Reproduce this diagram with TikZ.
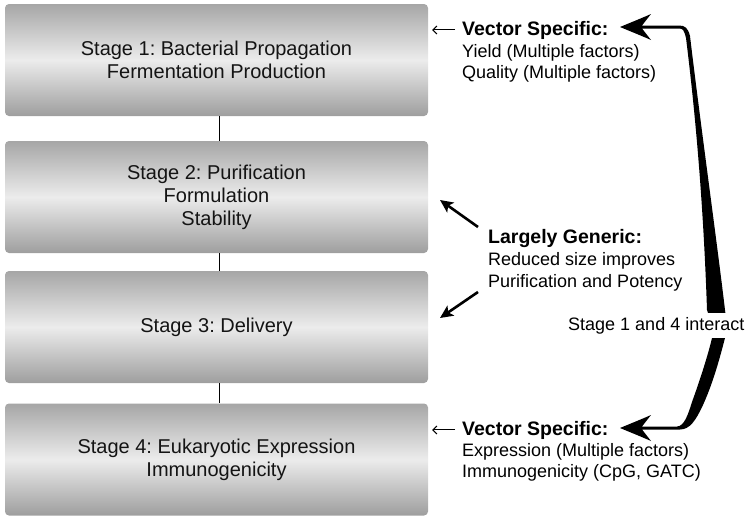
\documentclass[tikz,border=0pt]{standalone}
\usepackage{fontspec}
\setmainfont{Liberation Sans}
\usetikzlibrary{arrows.meta}
\definecolor{boxtop}{RGB}{166,166,166}
\definecolor{boxmid}{RGB}{236,236,236}
\definecolor{boxbot}{RGB}{158,158,158}
\definecolor{boxtext}{RGB}{20,20,20}
\frenchspacing
\begin{document}
\begin{tikzpicture}[x=1pt,y=-1pt,
  stagebox/.style={rounded corners=4pt, minimum width=423pt, minimum height=112pt,
    top color=boxtop, bottom color=boxbot, middle color=boxmid,
    align=center, text=boxtext, font=\fontsize{20}{23}\selectfont, inner sep=0pt},
  boldtxt/.style={font=\bfseries\fontsize{19.5}{22}\selectfont, inner sep=0pt, anchor=base west},
  regtxt/.style={font=\fontsize{18}{22}\selectfont, inner sep=0pt, anchor=base west},
  link/.style={draw=black, line width=1pt},
  smallarr/.style={draw=black, line width=1pt, -{Straight Barb[length=4pt,width=8pt]}},
  midarr/.style={draw=black, line width=2.6pt, -{Stealth[length=13pt,width=12pt,inset=3pt]}},
  bigarrow/.style={fill=black}
]
\useasboundingbox (0,0) rectangle (748,522);

% stage boxes
\node[stagebox] (s1) at (216.5,60) {Stage 1: Bacterial Propagation\\Fermentation Production};
\node[stagebox] (s2) at (216.5,197) {Stage 2: Purification\\Formulation\\Stability};
\node[stagebox] (s3) at (216.5,327) {Stage 3: Delivery};
\node[stagebox] (s4) at (216.5,459.5) {Stage 4: Eukaryotic Expression\\Immunogenicity};

% connectors between boxes
\draw[link] ([xshift=2.5pt]s1.south) -- ([xshift=2.5pt]s2.north);
\draw[link] ([xshift=2.5pt]s2.south) -- ([xshift=2.5pt]s3.north);
\draw[link] ([xshift=2.5pt]s3.south) -- ([xshift=2.5pt]s4.north);

% right-hand texts
\node[boldtxt] (vs1) at (462,35) {Vector Specific:};
\node[regtxt] (y1) at (462,57) {Yield (Multiple factors)};
\node[regtxt] (q1) at (462,78) {Quality (Multiple factors)};

\node[boldtxt] (lg) at (488,243) {Largely Generic:};
\node[regtxt] (rs) at (488,265) {Reduced size improves};
\node[regtxt] (pp) at (488,287) {Purification and Potency};

\node[boldtxt] (vs4) at (462,435) {Vector Specific:};
\node[regtxt] (ex) at (462,456) {Expression (Multiple factors)};
\node[regtxt] (im) at (462,477) {Immunogenicity (CpG, GATC)};

% small arrows
\draw[smallarr, shorten <=7pt, shorten >=4pt] (vs1.west) -- (s1.east |- vs1.west);
\draw[smallarr, shorten <=7pt, shorten >=4pt] (vs4.west) -- (s4.east |- vs4.west);

% middle arrows
\coordinate (m1s) at (478,227);
\coordinate (m1e) at (440,200);
\coordinate (m2s) at (478,292);
\coordinate (m2e) at (440,318);
\draw[midarr] (m1s) -- (m1e);
\draw[midarr] (m2s) -- (m2e);

% big tapered double arrow
\fill[bigarrow]
  (620,27) .. controls (632,22) and (642,18) .. (651,14)
  -- (642,25.5) -- (679,25.5)
  .. controls (685,25.5) and (688,28) .. (690,36)
  .. controls (700,120) and (718,250) .. (725,310)
  .. controls (727,325) and (727,330) .. (725,338)
  .. controls (718,365) and (712,385) .. (703,405)
  .. controls (696,420) and (690,429.5) .. (680,429.5)
  -- (642,429.5) -- (651,441)
  .. controls (642,437) and (632,433) .. (620,428)
  .. controls (632,423) and (642,419) .. (651,415)
  -- (642,426.5) -- (677,426.5)
  .. controls (684,426.5) and (688,415) .. (692,402)
  .. controls (700,380) and (708,355) .. (712,338)
  .. controls (713,330) and (710,318) .. (707,310)
  .. controls (705,250) and (700,150) .. (686,38)
  .. controls (684,30) and (683,28.5) .. (679,28.5)
  -- (642,28.5) -- (651,40)
  .. controls (642,36) and (632,32) .. (620,27) -- cycle;

\node[regtxt, fill=white, inner xsep=2pt, inner ysep=4pt] (s14) at (566,330) {Stage 1 and 4 interact};
\end{tikzpicture}
\end{document}
